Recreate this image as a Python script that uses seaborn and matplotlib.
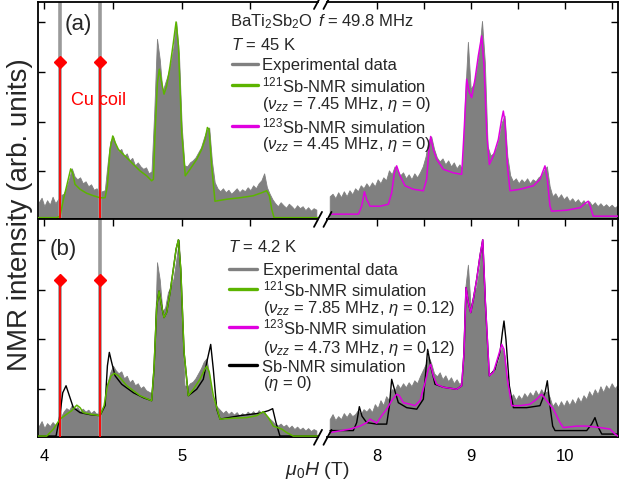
import matplotlib
matplotlib.use("Agg")
import matplotlib.pyplot as plt
import seaborn as sns
from matplotlib.lines import Line2D

# ---- measured spectra (field in T, intensity in arb. units) ----
FIELD_LO = [3.96, 3.98, 4.00, 4.02, 4.04, 4.06, 4.08, 4.10, 4.12, 4.14,
            4.16, 4.18, 4.20, 4.22, 4.24, 4.26, 4.28, 4.30, 4.32, 4.34,
            4.36, 4.38, 4.40, 4.42, 4.44, 4.46, 4.48, 4.50, 4.52, 4.54,
            4.56, 4.58, 4.60, 4.62, 4.64, 4.66, 4.68, 4.70, 4.72, 4.74,
            4.76, 4.78, 4.80, 4.82, 4.84, 4.86, 4.88, 4.90, 4.92, 4.94,
            4.96, 4.98, 5.00, 5.02, 5.04, 5.06, 5.08, 5.10, 5.12, 5.14,
            5.16, 5.18, 5.20, 5.22, 5.24, 5.26, 5.28, 5.30, 5.32, 5.34,
            5.36, 5.38, 5.40, 5.42, 5.44, 5.46, 5.48, 5.50, 5.52, 5.54,
            5.56, 5.58, 5.60, 5.62, 5.64, 5.66, 5.68, 5.70, 5.72, 5.74,
            5.76, 5.78, 5.80, 5.82, 5.84, 5.86, 5.88, 5.90, 5.92, 5.94,
            5.96, 5.98]
FIELD_HI = [7.50, 7.53, 7.56, 7.59, 7.62, 7.65, 7.68, 7.71, 7.74, 7.77,
            7.80, 7.83, 7.86, 7.89, 7.92, 7.95, 7.98, 8.01, 8.04, 8.07,
            8.10, 8.13, 8.16, 8.19, 8.22, 8.25, 8.28, 8.31, 8.34, 8.37,
            8.40, 8.43, 8.46, 8.49, 8.52, 8.55, 8.58, 8.61, 8.64, 8.67,
            8.70, 8.73, 8.76, 8.79, 8.82, 8.85, 8.88, 8.91, 8.94, 8.97,
            9.00, 9.03, 9.06, 9.09, 9.12, 9.15, 9.18, 9.21, 9.24, 9.27,
            9.30, 9.33, 9.36, 9.39, 9.42, 9.45, 9.48, 9.51, 9.54, 9.57,
            9.60, 9.63, 9.66, 9.69, 9.72, 9.75, 9.78, 9.81, 9.84, 9.87,
            9.90, 9.93, 9.96, 9.99, 10.02, 10.05, 10.08, 10.11, 10.14, 10.17,
            10.20, 10.23, 10.26, 10.29, 10.32, 10.35, 10.38, 10.41, 10.44, 10.47,
            10.50, 10.53, 10.56]

EXP_A_LO = [.38, .47, .30, .42, .33, .49, .36, .44, .52, .55,
            .66, .85, 1.06, .90, .84, .88, .76, .80, .70, .74,
            .63, .66, .57, .60, .62, 1.15, 1.60, 1.71, 1.52, 1.40,
            1.45, 1.30, 1.36, 1.22, 1.27, 1.12, 1.18, 1.10, 1.05, 1.08,
            .96, 1.00, 2.20, 3.66, 3.25, 2.60, 2.78, 2.95, 3.18, 3.50,
            4.00, 3.35, 1.90, 1.12, 1.10, 1.18, 1.22, 1.28, 1.38, 1.48,
            1.66, 1.82, 1.88, 1.20, .78, .66, .60, .66, .58, .63,
            .55, .60, .66, .58, .64, .60, .68, .62, .72, .66,
            .76, .82, .96, .68, .55, .44, .36, .30, .38, .32,
            .27, .35, .30, .24, .32, .26, .30, .22, .28, .21,
            .26, .23]
EXP_A_HI = [.50, .55, .46, .58, .48, .60, .50, .62, .54, .66,
            .60, .72, .66, .76, .68, .78, .70, .84, .76, .88,
            .82, 1.02, .94, 1.10, 1.02, .92, .98, .86, .94, .84,
            .96, .88, .98, 1.10, 1.30, 1.62, 1.70, 1.45, 1.28, 1.20,
            1.26, 1.14, 1.22, 1.10, 1.18, 1.06, 1.14, 1.05, 2.50, 3.60,
            2.65, 2.75, 3.00, 3.40, 4.02, 3.20, 1.50, 1.32, 1.36, 1.46,
            1.66, 1.98, 2.12, 1.30, .92, .80, .86, .76, .84, .78,
            .86, .76, .84, .80, .88, .92, 1.02, 1.10, .70, .50,
            .56, .46, .54, .44, .50, .40, .46, .38, .44, .36,
            .42, .34, .40, .32, .38, .30, .36, .29, .34, .28,
            .33, .27, .31]
EXP_B_LO = [.26, .36, .22, .32, .26, .34, .28, .36, .44, .55,
            .62, .58, .68, .60, .64, .56, .61, .55, .59, .52,
            .57, .50, .56, .60, .72, 1.13, 1.34, 1.47, 1.38, 1.32,
            1.36, 1.22, 1.27, 1.14, 1.19, 1.08, 1.12, 1.02, 1.06, .98,
            .95, .92, 1.60, 3.55, 3.20, 2.55, 2.65, 2.95, 3.05, 3.22,
            3.60, 4.00, 2.40, 1.08, 1.05, 1.12, 1.15, 1.22, 1.32, 1.42,
            1.55, 1.62, 1.30, .86, .70, .64, .58, .52, .57, .50,
            .55, .49, .54, .47, .52, .48, .55, .50, .56, .49,
            .58, .52, .55, .46, .41, .36, .30, .27, .31, .25,
            .29, .22, .27, .20, .25, .19, .23, .17, .22, .16,
            .20, .17]
EXP_B_HI = [.40, .50, .38, .46, .40, .52, .44, .53, .46, .50,
            .58, .50, .60, .55, .62, .54, .70, .62, .78, .68,
            .86, .78, 1.00, .98, 1.10, 1.02, 1.12, 1.04, 1.14, 1.06,
            1.18, 1.12, 1.26, 1.38, 1.50, 1.66, 1.52, 1.32, 1.26, 1.34,
            1.20, 1.28, 1.16, 1.24, 1.12, 1.20, 1.10, 1.18, 3.00, 3.50,
            2.64, 2.90, 3.05, 3.40, 3.98, 2.90, 1.40, 1.28, 1.36, 1.44,
            1.60, 1.84, 1.68, 1.10, .82, .90, .78, .88, .80, .92,
            .84, .94, .86, .98, .88, 1.00, .90, .96, .84, .66,
            .74, .64, .76, .66, .78, .68, .80, .70, .84, .74,
            .88, .80, .96, .86, 1.00, .90, 1.06, .94, 1.08, 1.00,
            1.12, 1.02, 1.08]

# ---- simulations ----
SIM121_A_FIELD = [3.956, 4.090, 4.114, 4.139, 4.163, 4.180, 4.192, 4.206, 4.223, 4.260,
                  4.308, 4.357, 4.405, 4.442, 4.459, 4.478, 4.498, 4.515, 4.539, 4.575,
                  4.612, 4.648, 4.696, 4.745, 4.781, 4.794, 4.806, 4.823, 4.837, 4.854,
                  4.871, 4.890, 4.915, 4.939, 4.959, 4.976, 5.000, 5.026, 5.060, 5.109,
                  5.145, 5.170, 5.187, 5.199, 5.218, 5.242, 5.327, 5.424, 5.521, 5.582,
                  5.618, 5.638, 5.655, 5.672, 5.990]
SIM121_A = [.07, .07, .10, .44, .71, .91, 1.05, .97, .74, .64,
            .56, .51, .47, .47, .71, 1.44, 1.71, 1.58, 1.44, 1.34,
            1.24, 1.14, 1.01, .91, .81, .84, 1.78, 2.78, 3.05, 2.78,
            2.55, 2.71, 3.11, 3.58, 4.00, 3.52, 1.78, .91, 1.04, 1.24,
            1.44, 1.64, 1.88, 1.84, 1.11, .40, .44, .47, .51, .57,
            .61, .51, .24, .07, .07]
SIM123_A_FIELD = [7.521, 7.805, 7.840, 7.869, 7.893, 7.929, 8.035, 8.124, 8.159, 8.188,
                  8.212, 8.248, 8.301, 8.390, 8.496, 8.531, 8.556, 8.574, 8.602, 8.638,
                  8.709, 8.815, 8.904, 8.929, 8.957, 8.982, 9.010, 9.046, 9.081, 9.117,
                  9.142, 9.170, 9.198, 9.241, 9.294, 9.329, 9.347, 9.365, 9.390, 9.418,
                  9.524, 9.666, 9.737, 9.790, 9.815, 9.843, 9.861, 10.021, 10.163, 10.226,
                  10.251, 10.276, 10.304, 10.565]
SIM123_A = [.14, .14, .30, .59, .44, .30, .30, .34, .57, .97,
            1.11, .91, .71, .64, .61, .84, 1.44, 1.70, 1.44, 1.24,
            1.04, .97, .94, 1.78, 2.85, 2.61, 2.48, 2.85, 3.32, 3.72,
            3.11, 1.78, 1.14, 1.31, 1.64, 2.04, 2.21, 1.98, 1.11, .61,
            .64, .71, .84, 1.11, .84, .30, .20, .22, .27, .37,
            .40, .27, .10, .10]
SIM121_B_FIELD = [3.956, 4.017, 4.066, 4.114, 4.163, 4.199, 4.236, 4.260, 4.284, 4.333,
                  4.405, 4.435, 4.459, 4.486, 4.510, 4.539, 4.600, 4.697, 4.781, 4.798,
                  4.818, 4.835, 4.854, 4.871, 4.890, 4.915, 4.939, 4.959, 4.976, 4.993,
                  5.017, 5.048, 5.085, 5.133, 5.162, 5.182, 5.201, 5.230, 5.279, 5.376,
                  5.473, 5.546, 5.594, 5.631, 5.667, 5.728, 5.764, 5.812, 5.990]
SIM121_B = [.06, .06, .20, .40, .50, .57, .68, .63, .53, .50,
            .47, .67, 1.07, 1.27, 1.32, 1.27, 1.07, .87, .77, 1.40,
            2.67, 2.97, 2.67, 2.44, 2.54, 2.94, 3.41, 3.81, 4.00, 3.41,
            1.74, .87, 1.00, 1.20, 1.37, 1.46, 1.34, .87, .40, .42,
            .43, .47, .55, .43, .26, .20, .13, .06, .06]
SIM123_B_FIELD = [7.503, 7.716, 7.822, 7.893, 7.929, 7.964, 8.000, 8.053, 8.106, 8.159,
                  8.212, 8.241, 8.283, 8.354, 8.407, 8.461, 8.514, 8.549, 8.574, 8.602,
                  8.638, 8.709, 8.851, 8.904, 8.929, 8.950, 8.975, 9.000, 9.028, 9.064,
                  9.099, 9.128, 9.156, 9.198, 9.241, 9.294, 9.330, 9.354, 9.390, 9.436,
                  9.524, 9.631, 9.702, 9.755, 9.808, 9.879, 9.950, 9.986, 10.127, 10.234,
                  10.376, 10.482, 10.535, 10.565]
SIM123_B = [.13, .20, .26, .33, .40, .36, .32, .47, .60, .77,
            .90, .87, .73, .70, .67, .77, 1.13, 1.40, 1.50, 1.27,
            1.10, 1.04, 1.00, 1.07, 1.74, 3.04, 2.74, 2.54, 2.81, 3.21,
            3.68, 4.00, 2.74, 1.27, 1.34, 1.67, 1.90, 1.80, 1.20, .67,
            .67, .70, .80, .90, .77, .60, .33, .23, .26, .26,
            .23, .20, .10, .06]
ETA0_LO_FIELD = [3.956, 4.085, 4.109, 4.134, 4.158, 4.182, 4.211, 4.260, 4.333, 4.405,
                 4.442, 4.459, 4.473, 4.490, 4.515, 4.563, 4.648, 4.721, 4.781, 4.798,
                 4.818, 4.835, 4.854, 4.871, 4.890, 4.915, 4.939, 4.959, 4.976, 4.993,
                 5.017, 5.048, 5.109, 5.157, 5.187, 5.211, 5.230, 5.255, 5.279, 5.424,
                 5.570, 5.631, 5.662, 5.686, 5.715, 5.990]
ETA0_LO = [.06, .06, .40, .93, 1.07, .87, .63, .53, .49, .47,
           .67, 1.47, 1.74, 1.54, 1.27, 1.10, .93, .83, .77, 1.40,
           2.67, 2.97, 2.67, 2.44, 2.54, 2.94, 3.41, 3.81, 4.00, 3.41,
           1.74, .87, 1.00, 1.20, 1.60, 1.90, 1.40, .60, .40, .47,
           .52, .57, .61, .33, .06, .06]
ETA0_HI_FIELD = [7.503, 7.751, 7.787, 7.815, 7.843, 7.893, 8.000, 8.106, 8.135, 8.159,
                 8.188, 8.230, 8.319, 8.426, 8.496, 8.524, 8.542, 8.574, 8.620, 8.709,
                 8.851, 8.904, 8.929, 8.950, 8.975, 9.000, 9.028, 9.064, 9.099, 9.128,
                 9.156, 9.198, 9.258, 9.312, 9.337, 9.354, 9.375, 9.411, 9.454, 9.595,
                 9.737, 9.790, 9.815, 9.843, 9.872, 9.897, 10.234, 10.287, 10.322, 10.351,
                 10.394, 10.570]
ETA0_HI = [.17, .17, .33, .65, .46, .33, .30, .30, .67, 1.20,
           1.00, .73, .63, .60, .80, 1.40, 1.80, 1.47, 1.10, 1.04,
           1.00, 1.07, 1.74, 3.04, 2.74, 2.54, 2.81, 3.21, 3.68, 4.00,
           2.74, 1.27, 1.40, 1.74, 2.14, 2.37, 2.00, 1.07, .63, .63,
           .67, .93, 1.17, .67, .26, .17, .17, .30, .43, .26,
           .10, .10]

# Cu coil signals (63Cu, 65Cu)
CU_FIELD = [4.114, 4.405]
CU_MARK = [3.2, 3.2]
CU_EXP_A = [5.0, 5.0]
CU_EXP_B = [3.2, 5.0]

GREY = "#808080"
GREEN = "#5cb400"
MAGENTA = "#e000e0"
W, H = 619, 485
XLIM_LO = (3.956, 5.992)
XLIM_HI = (7.471, 10.567)
YLIM = (0.035, 4.41)


def fx(x):
    return x / W


def fy(y):
    return 1 - y / H


sns.set_theme(style="ticks")
plt.rcParams["font.family"] = ["Liberation Sans", "DejaVu Sans"]
plt.rcParams["mathtext.fontset"] = "custom"
plt.rcParams["mathtext.rm"] = "Liberation Sans"
plt.rcParams["mathtext.it"] = "Liberation Sans:italic"
plt.rcParams["mathtext.bf"] = "Liberation Sans:bold"

fig = plt.figure(figsize=(6.19, 4.85), dpi=100)


def add_axes(x0, x1, y0, y1):
    return fig.add_axes([fx(x0), fy(y1), (x1 - x0) / W, (y1 - y0) / H])


def style_axes(ax, side, labels):
    ax.set_ylim(*YLIM)
    ax.set_yticks([1, 2, 3, 4])
    ax.tick_params(axis="both", which="both", direction="in", length=5, width=1.0,
                   top=True, bottom=True, labelsize=12, pad=7.5, colors="black")
    ax.tick_params(axis="y", left=(side == "l"), right=(side == "r"),
                   labelleft=False, labelright=False)
    ax.tick_params(axis="x", labelbottom=labels)
    for s in ax.spines.values():
        s.set_linewidth(1.3)
        s.set_color("black")
    ax.spines["right" if side == "l" else "left"].set_visible(False)
    ax.set_xlabel("")
    ax.set_ylabel("")
    ax.set_facecolor("white")


def draw_panel(y0, y1, exp_lo, exp_hi, cu_exp, sims_lo, sims_hi, labels):
    ax_l = add_axes(38.3, 318.0, y0, y1)
    ax_r = add_axes(327.0, 618.0, y0, y1)

    for ax, field, exp, sims in ((ax_l, FIELD_LO, exp_lo, sims_lo),
                                 (ax_r, FIELD_HI, exp_hi, sims_hi)):
        ax.fill_between(field, 0, exp, color=GREY, lw=0.6, zorder=1)
        for f, v, c, lw in sims:
            sns.lineplot(x=f, y=v, ax=ax, color=c, lw=lw, sort=False,
                         estimator=None, legend=False, zorder=3)

    ax_l.vlines(CU_FIELD, 0, cu_exp, color="#9a9a9a", lw=2.6, zorder=2)
    ax_l.vlines(CU_FIELD, 0, CU_MARK, color="red", lw=1.3, zorder=4)
    ax_l.plot(CU_FIELD, CU_MARK, "D", color="red", ms=6.5, zorder=5)

    ax_l.set_xlim(*XLIM_LO)
    ax_l.set_xticks([4, 5])
    ax_l.set_xticks([4.5, 5.5], minor=True)
    ax_r.set_xlim(*XLIM_HI)
    ax_r.set_xticks([8, 9, 10])
    ax_r.set_xticks([8.5, 9.5, 10.5], minor=True)
    style_axes(ax_l, "l", labels)
    style_axes(ax_r, "r", labels)


draw_panel(2.5, 220.4, EXP_A_LO, EXP_A_HI, CU_EXP_A,
           [(SIM121_A_FIELD, SIM121_A, GREEN, 1.1)],
           [(SIM123_A_FIELD, SIM123_A, MAGENTA, 1.1)], False)
draw_panel(220.4, 438.3, EXP_B_LO, EXP_B_HI, CU_EXP_B,
           [(ETA0_LO_FIELD, ETA0_LO, "black", 1.0), (SIM121_B_FIELD, SIM121_B, GREEN, 1.1)],
           [(ETA0_HI_FIELD, ETA0_HI, "black", 1.0), (SIM123_B_FIELD, SIM123_B, MAGENTA, 1.1)], True)

# axis-break marks
for yb in (2.5, 220.4, 438.3):
    for xb in (318.0, 327.5):
        fig.add_artist(Line2D([fx(xb - 4), fx(xb + 4)], [fy(yb + 7.5), fy(yb - 7.5)],
                              color="black", lw=1.3))


def txt(x, y, s, size=12, **kw):
    fig.text(fx(x), fy(y), s, fontsize=size, ha="left", va="baseline", **kw)


def handle(x0, x1, y, color):
    fig.add_artist(Line2D([fx(x0), fx(x1)], [fy(y), fy(y)], color=color, lw=2.4))


# panel (a) annotations
txt(65, 30, "(a)", 16)
txt(71, 105, "Cu coil", 13, color="red")
txt(230, 26, r"BaTi$_2$Sb$_2$O")
txt(318, 26, r"$f$ = 49.8 MHz")
txt(231, 50.5, r"$T$ = 45 K")
handle(231.7, 258.3, 65, GREY)
txt(261.7, 70, "Experimental data")
handle(231.7, 258.3, 86, GREEN)
txt(261.7, 92.5, r"$^{121}$Sb-NMR simulation")
txt(261.7, 108.5, r"($\nu_{zz}$ = 7.45 MHz, $\eta$ = 0)")
handle(231.7, 258.3, 126.7, MAGENTA)
txt(261.7, 133, r"$^{123}$Sb-NMR simulation")
txt(261.7, 149, r"($\nu_{zz}$ = 4.45 MHz, $\eta$ = 0)")

# panel (b) annotations
txt(50, 255, "(b)", 16)
txt(228.3, 251.5, r"$T$ = 4.2 K")
handle(229.3, 256.7, 270, GREY)
txt(262.7, 275, "Experimental data")
handle(229.3, 256.7, 290, GREEN)
txt(262.7, 296, r"$^{121}$Sb-NMR simulation")
txt(262.7, 313, r"($\nu_{zz}$ = 7.85 MHz, $\eta$ = 0.12)")
handle(229.3, 256.7, 328, MAGENTA)
txt(262.7, 334, r"$^{123}$Sb-NMR simulation")
txt(262.7, 352.7, r"($\nu_{zz}$ = 4.73 MHz, $\eta$ = 0.12)")
handle(229.3, 256.7, 366, "black")
txt(261.7, 372.5, "Sb-NMR simulation")
txt(263.3, 388, r"($\eta$ = 0)")

# axis labels
fig.text(fx(20), fy(215), "NMR intensity (arb. units)", rotation=90,
         ha="center", va="center", fontsize=20)
txt(285, 475, r"$\mu_0H$ (T)", 14)

fig.savefig("out.png", dpi=100)
